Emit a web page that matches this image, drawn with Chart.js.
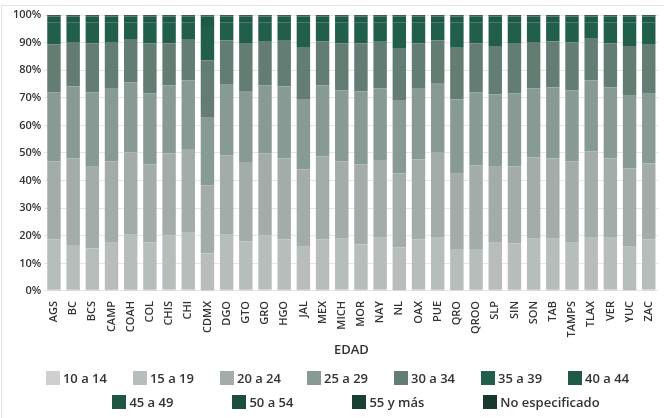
<!DOCTYPE html>
<html lang="es">
<head>
<meta charset="utf-8">
<script src="https://cdn.jsdelivr.net/npm/chart.js@4/dist/chart.umd.min.js"></script>
<style>
  html, body { margin: 0; padding: 0; background: #fff; }
  body { width: 664px; height: 418px; position: relative; overflow: hidden; font-family: "Open Sans", sans-serif; }
  .marco { position: absolute; left: 1px; top: 5px; width: 700px; height: 500px; border: 1px solid #e4e4e4; }
  #wrap { position: absolute; left: 0; top: 0; width: 664px; height: 418px; }
  .leyenda { position: absolute; left: 0; width: 664px; display: flex; justify-content: center; color: #333; font-size: 13px; font-weight: 600; box-sizing: border-box; }
  .leyenda .item { display: flex; align-items: center; white-space: nowrap; }
  .leyenda .caja { width: 14px; height: 14px; margin-right: 3px; }
  #fila1 { top: 369px; column-gap: 26px; padding-left: 11px; }
  #fila2 { top: 393px; column-gap: 59px; padding-left: 48px; }
</style>
</head>
<body>
<div class="marco"></div>
<div id="wrap"><canvas id="grafico" width="664" height="418"></canvas></div>
<div class="leyenda" id="fila1"></div>
<div class="leyenda" id="fila2"></div>
<script>
const estados = ["AGS","BC","BCS","CAMP","COAH","COL","CHIS","CHI","CDMX","DGO","GTO","GRO","HGO","JAL","MEX","MICH","MOR","NAY","NL","OAX","PUE","QRO","QROO","SLP","SIN","SON","TAB","TAMPS","TLAX","VER","YUC","ZAC"];

const gruposEdad = ["10 a 14","15 a 19","20 a 24","25 a 29","30 a 34","35 a 39","40 a 44","45 a 49","50 a 54","55 y más","No especificado"];
const colores = ["#cdd0cd","#b6bdba","#a3aca8","#879a93","#637d73","#215f4c","#1f5a48","#1e5544","#1c4d3e","#193f33","#17382d"];

// porcentajes por estado
const e10a14 = [0.4,0.4,0.4,0.4,0.4,0.4,0.6,0.5,0.2,0.4,0.4,0.6,0.4,0.4,0.4,0.5,0.4,0.5,0.3,0.5,0.4,0.3,0.4,0.4,0.4,0.4,0.4,0.4,0.4,0.5,0.3,0.5];
const e15a19 = [18.3,16.3,15.0,17.1,20.0,17.2,19.5,20.6,13.4,20.0,17.5,19.5,18.3,15.6,18.3,18.4,16.4,18.8,15.5,18.2,19.2,14.9,14.8,17.1,16.8,18.5,18.5,17.1,19.2,19.1,15.7,18.2];
const e20a24 = [28.2,31.3,29.6,29.5,29.8,28.3,29.7,30.3,24.6,28.8,28.8,29.7,29.3,28.0,30.0,28.0,29.1,28.2,26.9,28.9,30.5,27.3,30.3,27.5,28.0,29.5,29.1,29.4,30.9,28.4,28.4,27.5];
const e25a29 = [25.1,26.1,26.9,26.3,25.4,25.7,24.7,25.0,24.6,25.8,25.8,24.7,26.1,25.6,25.8,25.8,26.5,26.0,26.5,25.7,25.3,27.0,26.5,26.3,26.4,25.1,25.7,25.8,25.9,25.7,26.3,25.3];
const e30a34 = [17.3,16.1,17.9,16.9,15.7,18.2,15.3,14.9,20.8,15.8,17.1,15.8,16.6,18.8,16.0,17.0,17.4,16.8,18.8,16.4,15.4,18.6,17.8,17.5,18.0,16.7,16.7,17.4,15.0,16.1,18.1,17.7];
const e35a39 = [8.1,7.2,7.6,7.2,6.1,7.6,7.6,6.1,12.4,6.6,7.8,7.1,6.7,9.0,6.9,7.7,7.6,7.1,9.4,7.7,6.6,9.3,7.6,8.6,7.8,7.2,7.0,7.3,6.0,7.6,8.6,8.2];
const e40a44 = [2.1,2.1,2.1,2.1,2.1,2.1,2.1,2.1,3.5,2.1,2.1,2.1,2.1,2.1,2.1,2.1,2.1,2.1,2.1,2.1,2.1,2.1,2.1,2.1,2.1,2.1,2.1,2.1,2.1,2.1,2.1,2.1];
const e45a49 = [0.15,0.15,0.15,0.15,0.15,0.15,0.15,0.15,0.2,0.15,0.15,0.15,0.15,0.15,0.15,0.15,0.15,0.15,0.15,0.15,0.15,0.15,0.15,0.15,0.15,0.15,0.15,0.15,0.15,0.15,0.15,0.15];
const e50a54 = [0.03,0.03,0.03,0.03,0.03,0.03,0.03,0.03,0.03,0.03,0.03,0.03,0.03,0.03,0.03,0.03,0.03,0.03,0.03,0.03,0.03,0.03,0.03,0.03,0.03,0.03,0.03,0.03,0.03,0.03,0.03,0.03];
const e55mas = [0.02,0.02,0.02,0.02,0.02,0.02,0.02,0.02,0.02,0.02,0.02,0.02,0.02,0.02,0.02,0.02,0.02,0.02,0.02,0.02,0.02,0.02,0.02,0.02,0.02,0.02,0.02,0.02,0.02,0.02,0.02,0.02];
const eNoEsp = [0.3,0.3,0.3,0.3,0.3,0.3,0.3,0.3,0.25,0.3,0.3,0.3,0.3,0.3,0.3,0.3,0.3,0.3,0.3,0.3,0.3,0.3,0.3,0.3,0.3,0.3,0.3,0.3,0.3,0.3,0.3,0.3];

const ticksY = [0,10,20,30,40,50,60,70,80,90,100];

const series = [e10a14,e15a19,e20a24,e25a29,e30a34,e35a39,e40a44,e45a49,e50a54,e55mas,eNoEsp];

const datasets = series.map((valores, i) => ({
  label: gruposEdad[i],
  data: valores,
  backgroundColor: colores[i],
  borderWidth: 0,
  barPercentage: 0.7,
  categoryPercentage: 1
}));

const fuente = '"Open Sans", sans-serif';

new Chart(document.getElementById("grafico"), {
  type: "bar",
  data: { labels: estados, datasets },
  options: {
    responsive: false,
    animation: false,
    layout: { padding: { left: 10, right: 3, top: 15, bottom: 60 } },
    plugins: {
      legend: { display: false },
      tooltip: { enabled: true }
    },
    scales: {
      x: {
        stacked: true,
        grid: { display: false },
        border: { display: false },
        ticks: {
          autoSkip: false,
          minRotation: 90,
          maxRotation: 90,
          padding: 2,
          color: "#333",
          font: { family: fuente, size: 11, weight: "600" }
        },
        title: {
          display: true,
          text: "EDAD",
          color: "#333",
          padding: { top: 3, bottom: 0 },
          font: { family: fuente, size: 13, weight: "600" }
        }
      },
      y: {
        stacked: true,
        min: 0,
        max: 100,
        afterBuildTicks: (axis) => { axis.ticks = ticksY.map(v => ({ value: v })); },
        grid: { color: "#e6e6e6", drawTicks: false },
        border: { display: false },
        ticks: {
          padding: 3,
          color: "#333",
          font: { family: fuente, size: 11, weight: "600" },
          callback: (v) => v + "%"
        }
      }
    }
  }
});

// leyenda en dos filas (7 + 4)
function pintarFila(id, desde, hasta) {
  const fila = document.getElementById(id);
  for (let i = desde; i < hasta; i++) {
    const item = document.createElement("div");
    item.className = "item";
    item.innerHTML = `<span class="caja" style="background:${colores[i]}"></span><span>${gruposEdad[i]}</span>`;
    fila.appendChild(item);
  }
}
pintarFila("fila1", 0, 7);
pintarFila("fila2", 7, 11);
</script>
</body>
</html>
